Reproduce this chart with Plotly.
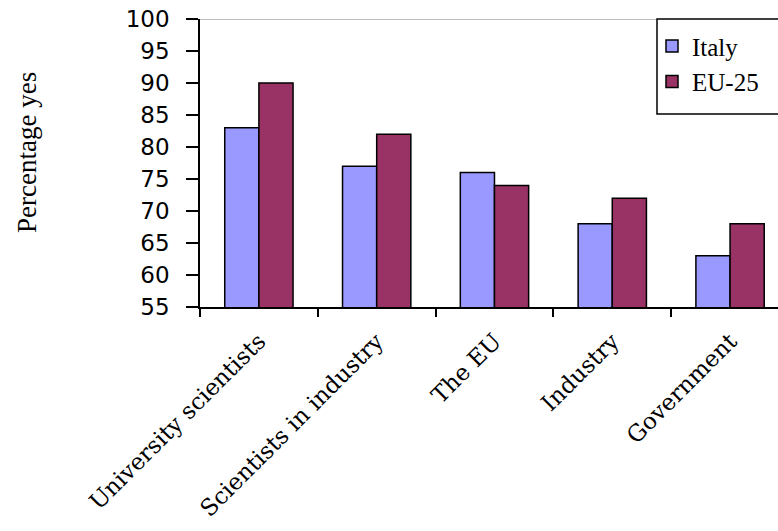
import plotly.graph_objects as go

# Share of respondents answering "yes", by actor
categories = ["University scientists", "Scientists in industry", "The EU", "Industry", "Government"]
italy = [83, 77, 76, 68, 63]
eu25 = [90, 82, 74, 72, 68]
y_ticks = [55, 60, 65, 70, 75, 80, 85, 90, 95, 100]

serif = "Liberation Serif, Times New Roman, serif"
wide_serif = "DejaVu Serif, serif"
sans = "DejaVu Sans, Verdana, sans-serif"

fig = go.Figure()
fig.add_trace(go.Bar(
    name="Italy", x=categories, y=italy,
    marker=dict(color="#9999FF", line=dict(color="#000000", width=1.5)),
))
fig.add_trace(go.Bar(
    name="EU-25", x=categories, y=eu25,
    marker=dict(color="#993366", line=dict(color="#000000", width=1.5)),
))

# plot area: x 200..778, y 19..307 (pixels)
plot_w, plot_h = 578, 288
legend_bottom_px = 114

fig.update_layout(
    width=778, height=531,
    margin=dict(l=200, r=0, t=19, b=224, autoexpand=False),
    paper_bgcolor="white", plot_bgcolor="white",
    barmode="group", bargap=0.42, bargroupgap=0,
    showlegend=True,
    legend=dict(
        x=(652 - 200) / plot_w, y=0.985, xanchor="left", yanchor="top",
        bgcolor="rgba(0,0,0,0)", borderwidth=0,
        font=dict(family=serif, size=25, color="black"),
        itemwidth=30,
    ),
    xaxis=dict(
        type="category",
        range=[-0.5, 4.407],
        automargin=False,
        showline=True, linecolor="#000000", linewidth=1.5,
        ticks="outside", tickson="boundaries", ticklen=8, tickwidth=1.5, tickcolor="#000000",
        tickangle=-45,
        tickfont=dict(family=wide_serif, size=23, color="black"),
        ticklabelstandoff=10,
        showgrid=False, zeroline=False,
    ),
    yaxis=dict(
        range=[55, 100],
        tickvals=y_ticks,
        automargin=False,
        showline=True, linecolor="#000000", linewidth=1.5,
        ticks="outside", ticklen=12, tickwidth=1.5, tickcolor="#000000",
        tickfont=dict(family=sans, size=23, color="black"),
        ticklabelstandoff=12,
        showgrid=False, zeroline=False,
    ),
    shapes=[
        dict(
            type="line", xref="paper", yref="y",
            x0=0, x1=1, y0=100, y1=100,
            line=dict(color="#808080", width=1),
        ),
        # legend frame, running past the right edge of the page
        dict(
            type="rect", xref="paper", yref="paper",
            x0=(657 - 200) / plot_w, x1=1.2,
            y0=(307 - legend_bottom_px) / plot_h, y1=1,
            fillcolor="white", line=dict(color="#000000", width=1.5),
            layer="above",
        ),
    ],
    annotations=[dict(
        text="Percentage yes", xref="paper", yref="paper",
        x=-(200 - 27) / plot_w, y=(307 - 153) / plot_h, xanchor="center", yanchor="middle",
        textangle=-90, showarrow=False,
        font=dict(family=serif, size=27, color="black"),
    )],
)

fig.write_html("out.html")
